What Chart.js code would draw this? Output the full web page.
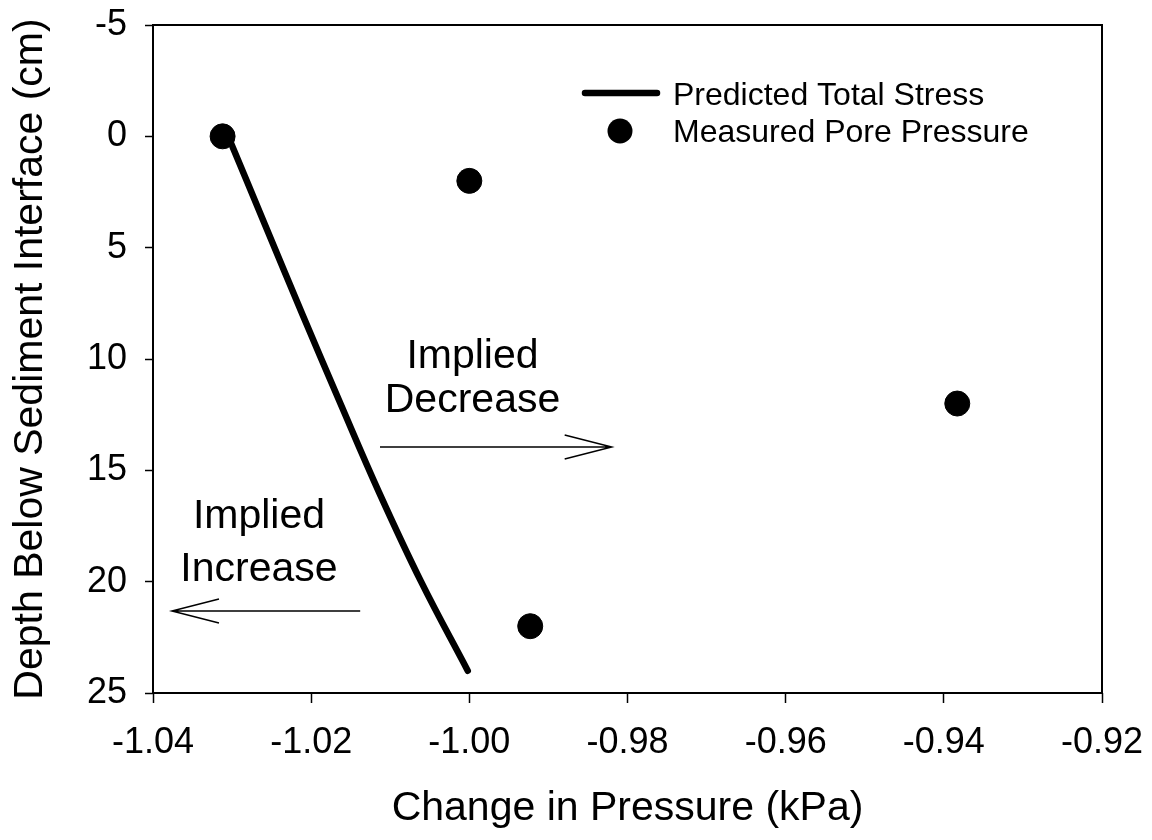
<!DOCTYPE html>
<html>
<head>
<meta charset="utf-8">
<script src="https://cdn.jsdelivr.net/npm/chart.js@4"></script>
<style>
  html, body { margin: 0; padding: 0; background: #fff; }
  #wrap { width: 1152px; height: 840px; }
</style>
</head>
<body>
<div id="wrap"><canvas id="chart" width="1152" height="840"></canvas></div>
<script>
const FONT = "'Liberation Sans', Arial, Helvetica, sans-serif";

// predicted total stress profile: depth (cm) vs change in pressure (kPa)
const stressDepth = [0, 4, 8, 12, 16, 20, 24];
const stressChange = [-1.0305, -1.0258, -1.0211, -1.0163, -1.0114, -1.0061, -1.0002];

// measured pore pressure
const poreDepth = [0, 2, 12, 22];
const poreChange = [-1.0312, -1.0000, -0.9383, -0.9923];

const xTicks = [-1.04, -1.02, -1.00, -0.98, -0.96, -0.94, -0.92];
const yTicks = [-5, 0, 5, 10, 15, 20, 25];

const seriesNames = ["Predicted Total Stress", "Measured Pore Pressure"];

// text labels + arrows placed in data units
const notes = [
  { lines: ["Implied", "Decrease"], x: -0.9996, y: [10.40, 12.38] },
  { lines: ["Implied", "Increase"], x: -1.0266, y: [17.59, 19.97] }
];
const arrows = [
  { x0: -1.0113, x1: -0.9820, y: 13.95 },
  { x0: -1.0138, x1: -1.0376, y: 21.32 }
];

// box round the plot area
const framePlugin = {
  id: "frame",
  afterDraw(chart) {
    const { ctx, chartArea: a } = chart;
    ctx.save();
    ctx.strokeStyle = "#000";
    ctx.lineWidth = 2;
    ctx.strokeRect(a.left, a.top, a.right - a.left, a.bottom - a.top);
    ctx.restore();
  }
};

const notesPlugin = {
  id: "notes",
  afterDraw(chart) {
    const { ctx, chartArea: a } = chart;
    const xs = chart.scales.x, ys = chart.scales.y;
    ctx.save();
    ctx.fillStyle = "#000";
    ctx.strokeStyle = "#000";

    ctx.font = "41px " + FONT;
    ctx.textAlign = "center";
    ctx.textBaseline = "alphabetic";
    notes.forEach(n => {
      const px = xs.getPixelForValue(n.x);
      n.lines.forEach((t, i) => ctx.fillText(t, px, ys.getPixelForValue(n.y[i])));
    });

    ctx.lineWidth = 1.5;
    arrows.forEach(ar => {
      const p0 = xs.getPixelForValue(ar.x0);
      const p1 = xs.getPixelForValue(ar.x1);
      const py = ys.getPixelForValue(ar.y);
      const dir = Math.sign(p1 - p0);
      ctx.beginPath();
      ctx.moveTo(p0, py);
      ctx.lineTo(p1, py);
      ctx.moveTo(p1 - dir * 47, py - 12);
      ctx.lineTo(p1, py);
      ctx.lineTo(p1 - dir * 47, py + 12);
      ctx.stroke();
    });

    // legend in the upper right of the plot
    const lx = a.left, ly = a.top;
    ctx.lineWidth = 6.5;
    ctx.lineCap = "round";
    ctx.beginPath();
    ctx.moveTo(lx + 432, ly + 68);
    ctx.lineTo(lx + 504, ly + 68);
    ctx.stroke();
    ctx.beginPath();
    ctx.arc(lx + 467, ly + 106, 12.5, 0, Math.PI * 2);
    ctx.fill();
    ctx.font = "32px " + FONT;
    ctx.textAlign = "left";
    ctx.fillText(seriesNames[0], lx + 520, ly + 80);
    ctx.fillText(seriesNames[1], lx + 520, ly + 117);
    ctx.restore();
  }
};

const ctx = document.getElementById("chart").getContext("2d");

new Chart(ctx, {
  type: "scatter",
  data: {
    datasets: [
      {
        label: seriesNames[1],
        data: poreChange.map((x, i) => ({ x, y: poreDepth[i] })),
        backgroundColor: "#000",
        borderColor: "#000",
        pointRadius: 12.5,
        pointHoverRadius: 12.5
      },
      {
        label: seriesNames[0],
        data: stressChange.map((x, i) => ({ x, y: stressDepth[i] })),
        showLine: true,
        borderColor: "#000",
        borderWidth: 6.5,
        borderCapStyle: "round",
        borderJoinStyle: "round",
        pointRadius: 0,
        tension: 0.4
      }
    ]
  },
  options: {
    responsive: false,
    animation: false,
    events: [],
    layout: { padding: { top: 25, right: 50, left: 0, bottom: 0 } },
    plugins: {
      legend: { display: false },
      tooltip: { enabled: false }
    },
    scales: {
      x: {
        type: "linear",
        min: -1.04,
        max: -0.92,
        afterBuildTicks: s => { s.ticks = xTicks.map(v => ({ value: v })); },
        afterFit: s => {
          s.height = 147;
          s.paddingLeft = 0;
          s.paddingRight = 0;
        },
        ticks: {
          callback: v => v.toFixed(2),
          color: "#000",
          font: { family: FONT, size: 36 },
          padding: 18,
          maxRotation: 0
        },
        grid: { drawOnChartArea: false, tickLength: 10, color: "#000", tickWidth: 1.5 },
        border: { display: false },
        title: {
          display: true,
          text: "Change in Pressure (kPa)",
          color: "#000",
          font: { family: FONT, size: 41 },
          padding: { top: 0, bottom: 7 }
        }
      },
      y: {
        type: "linear",
        reverse: true,
        min: -5,
        max: 25,
        afterBuildTicks: s => { s.ticks = yTicks.map(v => ({ value: v })); },
        afterFit: s => {
          s.width = 153;
          s.paddingTop = 0;
          s.paddingBottom = 0;
        },
        ticks: {
          callback: v => String(v),
          color: "#000",
          font: { family: FONT, size: 36 },
          padding: 18
        },
        grid: { drawOnChartArea: false, tickLength: 8, color: "#000", tickWidth: 1.5 },
        border: { display: false },
        title: {
          display: true,
          text: "Depth Below Sediment Interface (cm)",
          color: "#000",
          font: { family: FONT, size: 41 },
          padding: { top: 6, bottom: 0 }
        }
      }
    }
  },
  plugins: [framePlugin, notesPlugin]
});
</script>
</body>
</html>
